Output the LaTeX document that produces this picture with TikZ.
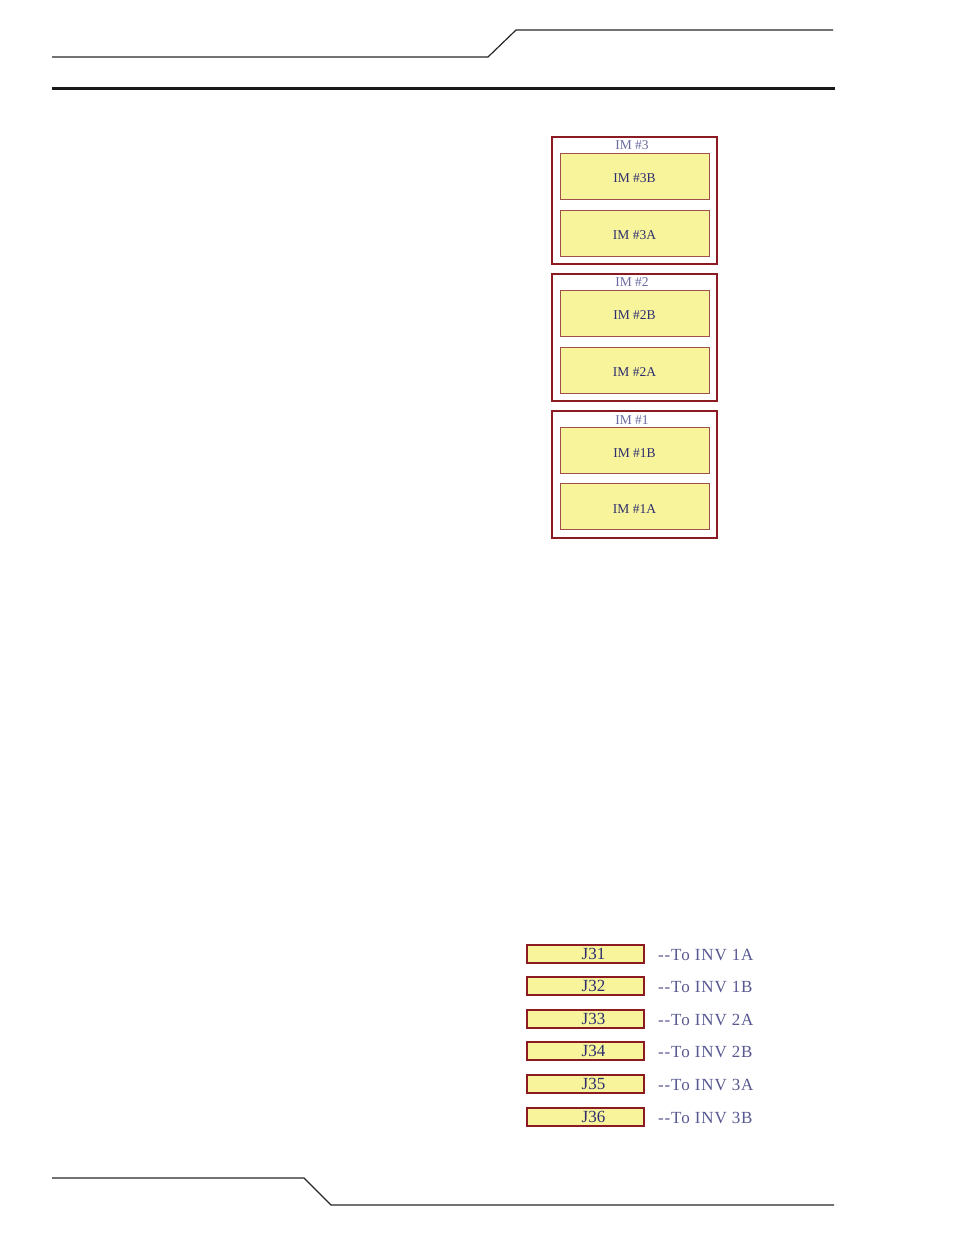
\documentclass[tikz,border=0pt]{standalone}
\usepackage{fontspec}
\setmainfont{Liberation Serif}
\definecolor{frame}{HTML}{8B1A22}
\definecolor{edge}{HTML}{A0504A}
\definecolor{pad}{HTML}{F8F49C}
\definecolor{ink}{HTML}{2E2E6E}
\definecolor{dim}{HTML}{6A6AA0}
\begin{document}
\begin{tikzpicture}[
    x=1pt, y=-1pt,
    every node/.style={font=\fontsize{13.5}{14}\selectfont, text=ink, inner sep=0pt},
    group/.style={rectangle, draw=frame, line width=1.4pt, minimum width=165pt, minimum height=127pt},
    module/.style={rectangle, draw=edge, fill=pad, line width=0.9pt, minimum width=149pt, minimum height=46pt,
        text height=13pt, text depth=0pt},
    grouptag/.style={text=dim},
    jack/.style={rectangle, draw=frame, fill=pad, line width=1.1pt, minimum width=117pt, minimum height=18pt,
        font=\fontsize{17}{18}\selectfont},
    dest/.style={anchor=west, text=dim!70!ink, font=\fontsize{17}{18}\selectfont\addfontfeatures{LetterSpace=5}},
    rule/.style={line width=1.2pt, black!85}
]
\useasboundingbox (0,0) rectangle (954,1235);
% page header and footer
\draw[rule] (52,57) -- (488,57) -- (516,30) -- (833,30);
\draw[line width=3pt, black!90] (52,88) -- (835,88);
\draw[rule] (52,1178) -- (304,1178) -- (331,1205) -- (834,1205);
% inverter modules
\node[group] (im3) at (634.5,200.5) {};
\node[grouptag] (im3tag) at (632,145.5) {IM \#3};
\node[module] (im3b) at (634.5,176) {IM \#3B};
\node[module] (im3a) at (634.5,233) {IM \#3A};
\node[group] (im2) at (634.5,337.5) {};
\node[grouptag] (im2tag) at (632,282.5) {IM \#2};
\node[module] (im2b) at (634.5,313) {IM \#2B};
\node[module] (im2a) at (634.5,370) {IM \#2A};
\node[group] (im1) at (634.5,474.5) {};
\node[grouptag] (im1tag) at (632,420) {IM \#1};
\node[module] (im1b) at (634.5,450.5) {IM \#1B};
\node[module] (im1a) at (634.5,506.5) {IM \#1A};
% connector list
\foreach \n/\y/\t in {31/954/1A, 32/986/1B, 33/1019/2A, 34/1051/2B, 35/1084/3A, 36/1117/3B} {
    \node[jack] (j\n) at (585.5,\y) {\hspace{16pt}J\n};
    \node[dest] (to\n) at (658,\y+1) {-{}-To INV \t};
}
\end{tikzpicture}
\end{document}
